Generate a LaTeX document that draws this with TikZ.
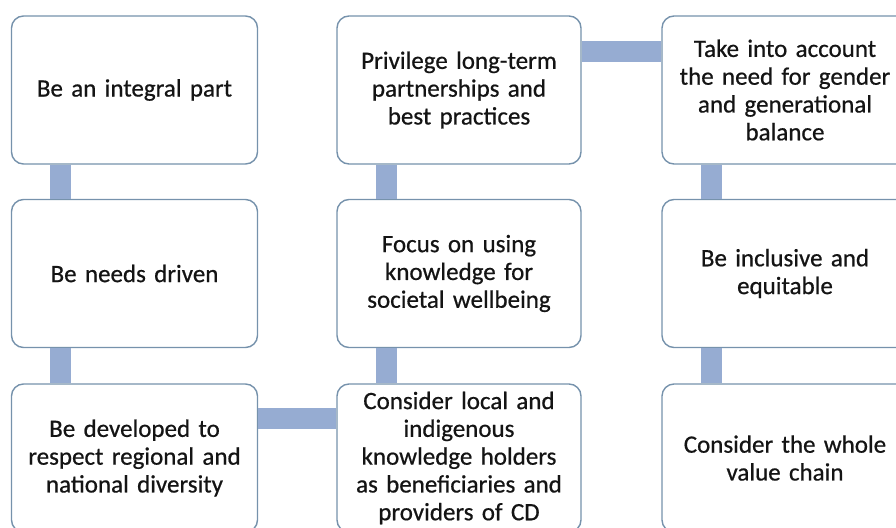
\documentclass[tikz,border=0pt]{standalone}
\usepackage{fontspec}
\setmainfont{Carlito}[WordSpace=0.5,FakeBold=0.6]
\definecolor{boxline}{RGB}{118,146,172}
\definecolor{barblue}{RGB}{150,172,210}
\definecolor{txt}{RGB}{20,20,20}
\begin{document}
\begin{tikzpicture}[x=1pt,y=-1pt,line join=round,
	box/.style={draw=boxline,line width=1.4pt,fill=white,rounded corners=12pt,minimum width=246pt,minimum height=148pt,inner sep=0pt,text width=240pt,align=center,text=txt,font=\fontsize{25}{27.8}\selectfont},
	bar/.style={draw=barblue,line width=21pt}]
	\useasboundingbox (0,0) rectangle (896,527);
	\clip (0,0) rectangle (896,527);
	\def\cA{134.5} \def\cB{459} \def\cC{785}
	\def\rA{90} \def\rB{273.5} \def\rC{458}
	% first column
	\node[box] (a1) at (\cA,\rA) {Be an integral part};
	\node[box] (a2) at (\cA,\rB) {Be needs driven};
	\node[box] (a3) at (\cA,\rC) {Be developed to\\respect regional and\\national diversity};
	% second column
	\node[box,minimum width=244pt] (b1) at (\cB,\rA) {Privilege long-term\\partnerships and\\best practices};
	\node[box,minimum width=244pt] (b2) at (\cB,\rB) {Focus on using\\knowledge for\\societal wellbeing};
	\node[box,minimum width=244pt] (b3) at (\cB,\rC) {Consider local and\\indigenous\\knowledge holders\\as beneficiaries and\\providers of CD};
	% third column
	\node[box] (c1) at (\cC,\rA) {Take into account\\the need for gender\\and generational\\balance};
	\node[box] (c2) at (\cC,\rB) {Be inclusive and\\equitable};
	\node[box] (c3) at (\cC,\rC) {Consider the whole\\value chain};
	% bars
	\foreach \col in {a,b,c}{
		\draw[bar] ([xshift=50pt]\col1.south west)--([xshift=50pt]\col2.north west);
		\draw[bar] ([xshift=50pt]\col2.south west)--([xshift=50pt]\col3.north west);
	}
	\draw[bar] ([yshift=-36pt]b1.north east)--([yshift=-36pt]c1.north west);
	\draw[bar] ([yshift=-35pt]a3.north east)--([yshift=-35pt]b3.north west);
\end{tikzpicture}
\end{document}
